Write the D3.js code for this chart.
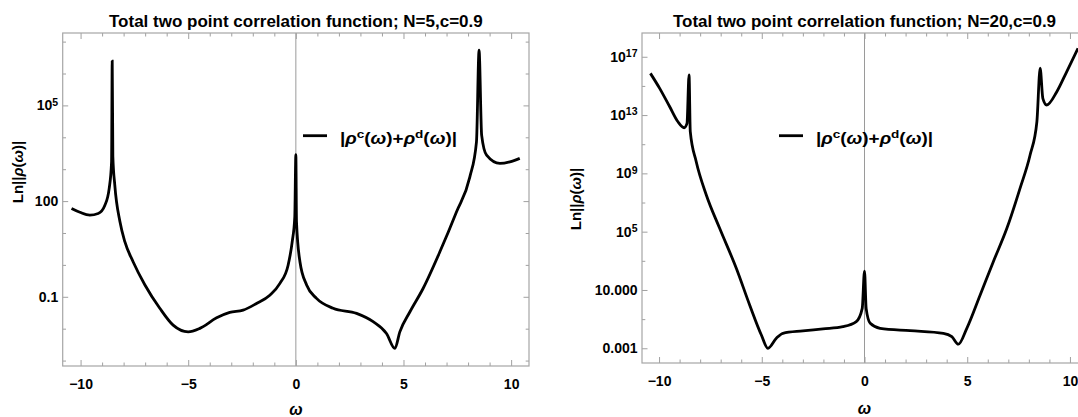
<!DOCTYPE html>
<html>
<head>
<meta charset="utf-8">
<script src="https://cdn.jsdelivr.net/npm/d3@7"></script>
<style>
  body { margin: 0; background: #fff; }
  svg { display: block; font-family: "Liberation Sans", Arial, sans-serif; }
  .frame { fill: none; stroke: #a6a6a6; stroke-width: 1.2; }
  .zero { stroke: #9a9a9a; stroke-width: 1; }
  .curve { fill: none; stroke: #000; stroke-width: 2.8; stroke-linejoin: miter; }
  .ticks { color: #a0a0a0; }
  .ticks text { fill: #000; font-size: 14px; font-weight: bold; }
  .title { font-size: 17px; font-weight: bold; }
  .ylab { font-size: 15px; font-weight: bold; }
  .xlab { font-size: 16px; font-style: italic; font-weight: bold; }
  .legend { font-size: 16px; font-weight: bold; }
</style>
</head>
<body>
<svg id="chart" width="1078" height="417"></svg>
<script>
// N=5 curve: omega and log10 |rho|
const omegaN5 = [-10.42, -10.03, -9.57, -9.18, -8.87, -8.67, -8.56, -8.53, -8.50, -8.41, -8.17, -7.94,
  -7.56, -7.01, -6.32, -5.70, -5.00, -4.46, -3.68, -3.07, -2.45, -1.83, -1.21, -0.74, -0.36, -0.17,
  -0.05, 0, 0.03, 0.19, 0.50, 0.96, 1.73, 2.82, 3.59, 4.21, 4.60, 4.83, 5.30, 5.91, 6.69, 7.46,
  8.08, 8.39, 8.51, 8.63, 8.86, 9.48, 9.94, 10.40];
const logRhoN5 = [1.77, 1.65, 1.56, 1.61, 1.87, 2.40, 3.23, 6.39, 3.40, 2.50, 1.35, 0.72,
  0.10, -0.63, -1.36, -1.89, -2.10, -1.99, -1.66, -1.49, -1.42, -1.21, -0.95, -0.58, -0.01, 0.72,
  1.50, 3.46, 1.35, 0.10, -0.63, -1.05, -1.36, -1.52, -1.78, -2.15, -2.62, -2.10, -1.47, -0.74, 0.41, 1.66,
  2.75, 3.86, 6.73, 4.07, 3.44, 3.18, 3.23, 3.34];

// N=20 curve
const omegaN20 = [-10.42, -9.97, -9.48, -9.08, -8.78, -8.64, -8.54, -8.48, -8.19, -7.70, -7.05, -6.24,
  -5.59, -5.02, -4.70, -4.29, -3.97, -3.00, -2.02, -1.05, -0.40, -0.11, 0, 0.08, 0.28, 0.76,
  2.22, 3.84, 4.25, 4.57, 4.98, 5.63, 6.27, 6.93, 7.57, 8.06, 8.39, 8.55, 8.68, 8.87, 9.36,
  9.84, 10.39];
const logRhoN20 = [15.86, 14.83, 13.57, 12.54, 12.13, 12.43, 15.75, 11.86, 9.80, 7.52, 5.23, 2.49,
  -0.03, -2.09, -3.00, -2.31, -1.97, -1.81, -1.67, -1.52, -1.17, -0.26, 2.30, -0.26, -1.29, -1.63,
  -1.79, -1.97, -2.20, -2.72, -1.63, 0.66, 2.94, 5.23, 7.97, 10.26, 12.54, 16.21, 14.15, 13.69, 14.60,
  15.97, 17.58];

const xTicks = [-10, -5, 0, 5, 10];
const xTickLabels = ['\u221210', '\u22125', '0', '5', '10'];
const xMinorTicks = [-9, -8, -7, -6, -4, -3, -2, -1, 1, 2, 3, 4, 6, 7, 8, 9];

const yTicksN5 = [1e-1, 1e2, 1e5];
const yTickLabelsN5 = ['0.1', '100', '10^5'];
const yMinorTicksN5 = [1e-3, 1e-2, 1, 10, 1e3, 1e4, 1e6, 1e7];

const yTicksN20 = [1e-3, 1e1, 1e5, 1e9, 1e13, 1e17];
const yTickLabelsN20 = ['0.001', '10.000', '10^5', '10^9', '10^13', '10^17'];
const yMinorTicksN20 = [1e-1, 1e3, 1e7, 1e11, 1e15];

const svg = d3.select('#chart');

const supLabels = sel => {
  sel.selectAll('.tick text').each(function () {
    const t = d3.select(this);
    const s = t.text();
    if (s.indexOf('^') < 0) return;
    const [base, exp] = s.split('^');
    t.text(null);
    t.append('tspan').text(base);
    t.append('tspan').attr('dy', '-0.45em').style('font-size', '10.5px').text(exp);
  });
};

const drawPanel = (p) => {
  const x = d3.scaleLinear().domain([-10.83, 10.83]).range([p.left, p.right]);
  const y = d3.scaleLog().domain([10 ** p.logMin, 10 ** p.logMax]).range([p.bottom, p.top]);
  const g = svg.append('g');

  g.append('clipPath').attr('id', p.id + '-clip')
    .append('rect')
    .attr('x', p.left).attr('y', p.top)
    .attr('width', p.right - p.left).attr('height', p.bottom - p.top);

  g.append('line').attr('class', 'zero')
    .attr('x1', x(0)).attr('x2', x(0))
    .attr('y1', p.top).attr('y2', p.bottom);

  const ax = (axis, tx, ty) => g.append('g')
    .attr('class', 'ticks')
    .attr('transform', `translate(${tx},${ty})`)
    .call(axis)
    .call(s => s.select('.domain').remove());

  // bottom / top
  ax(d3.axisBottom(x).tickValues(xTicks).tickSize(-6).tickPadding(13.5)
    .tickFormat((d, i) => xTickLabels[i]), 0, p.bottom);
  ax(d3.axisBottom(x).tickValues(xMinorTicks).tickSize(-3.5).tickFormat(''), 0, p.bottom);
  ax(d3.axisTop(x).tickValues(xTicks).tickSize(-6).tickFormat(''), 0, p.top);
  ax(d3.axisTop(x).tickValues(xMinorTicks).tickSize(-3.5).tickFormat(''), 0, p.top);

  // left / right
  ax(d3.axisLeft(y).tickValues(p.yTicks).tickSize(-5.5).tickPadding(4.5)
    .tickFormat((d, i) => p.yLabels[i]), p.left, 0)
    .call(supLabels);
  ax(d3.axisLeft(y).tickValues(p.yMinor).tickSize(-3.3).tickFormat(''), p.left, 0);
  ax(d3.axisRight(y).tickValues(p.yTicks).tickSize(-5.5).tickFormat(''), p.right, 0);
  ax(d3.axisRight(y).tickValues(p.yMinor).tickSize(-3.3).tickFormat(''), p.right, 0);

  g.append('rect').attr('class', 'frame')
    .attr('x', p.left).attr('y', p.top)
    .attr('width', p.right - p.left).attr('height', p.bottom - p.top);

  const pts = p.omega.map((w, i) => [w, 10 ** p.logRho[i]]);
  const line = d3.line()
    .x(d => x(d[0]))
    .y(d => y(d[1]))
    .curve(d3.curveMonotoneX);

  g.append('path').attr('class', 'curve')
    .attr('clip-path', `url(#${p.id}-clip)`)
    .attr('d', line(pts));

  // title
  g.append('text').attr('class', 'title')
    .attr('x', x(0)).attr('y', 26.5)
    .attr('text-anchor', 'middle')
    .text(p.title);

  // axis labels
  const yl = g.append('text').attr('class', 'ylab')
    .attr('transform', `translate(${p.ylabX},${p.ylabY}) rotate(-90)`)
    .attr('text-anchor', 'middle');
  yl.append('tspan').text('Ln||');
  yl.append('tspan').style('font-style', 'italic').text('\u03c1');
  yl.append('tspan').text('(');
  yl.append('tspan').style('font-style', 'italic').text('\u03c9');
  yl.append('tspan').text(')|');

  g.append('text').attr('class', 'xlab')
    .attr('x', x(0)).attr('y', p.xlabY)
    .attr('text-anchor', 'middle')
    .text('\u03c9');

  // legend
  g.append('line')
    .attr('x1', p.legX).attr('x2', p.legX + 24)
    .attr('y1', 135.7).attr('y2', 135.7)
    .attr('stroke', '#000').attr('stroke-width', 2.8);
  const lt = g.append('text').attr('class', 'legend')
    .attr('x', p.legX + 37).attr('y', 144)
    .attr('textLength', 117).attr('lengthAdjust', 'spacingAndGlyphs');
  lt.append('tspan').text('|');
  lt.append('tspan').style('font-style', 'italic').text('\u03c1');
  lt.append('tspan').attr('dy', -6.5).style('font-size', '11.5px').text('c');
  lt.append('tspan').attr('dy', 6.5).text('(');
  lt.append('tspan').style('font-style', 'italic').text('\u03c9');
  lt.append('tspan').text(')+');
  lt.append('tspan').style('font-style', 'italic').text('\u03c1');
  lt.append('tspan').attr('dy', -6.5).style('font-size', '11.5px').text('d');
  lt.append('tspan').attr('dy', 6.5).text('(');
  lt.append('tspan').style('font-style', 'italic').text('\u03c9');
  lt.append('tspan').text(')|');
};

drawPanel({
  id: 'n5', left: 62.7, right: 529, top: 33, bottom: 366,
  logMin: -3.17, logMax: 7.27,
  omega: omegaN5, logRho: logRhoN5,
  yTicks: yTicksN5, yLabels: yTickLabelsN5, yMinor: yMinorTicksN5,
  title: 'Total two point correlation function; N=5,c=0.9',
  ylabX: 23, ylabY: 172, xlabY: 415, legX: 303
});

drawPanel({
  id: 'n20', left: 642, right: 1087, top: 33, bottom: 363,
  logMin: -4.01, logMax: 18.63,
  omega: omegaN20, logRho: logRhoN20,
  yTicks: yTicksN20, yLabels: yTickLabelsN20, yMinor: yMinorTicksN20,
  title: 'Total two point correlation function; N=20,c=0.9',
  ylabX: 581, ylabY: 199, xlabY: 414, legX: 779
});
</script>
</body>
</html>
